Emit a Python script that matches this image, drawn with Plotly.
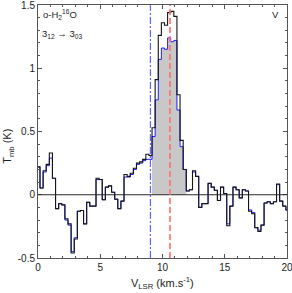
import plotly.graph_objects as go

# Channel centre velocities (km/s)
velocity = [0.035, 0.285, 0.535, 0.785, 1.035, 1.285, 1.535, 1.785, 2.035, 2.285,
            2.535, 2.785, 3.035, 3.285, 3.535, 3.785, 4.035, 4.285, 4.535, 4.785,
            5.035, 5.285, 5.535, 5.785, 6.035, 6.285, 6.535, 6.785, 7.035, 7.285,
            7.535, 7.785, 8.035, 8.285, 8.535, 8.785, 9.035, 9.285, 9.535, 9.785,
            10.035, 10.285, 10.535, 10.785, 11.035, 11.285, 11.535, 11.785, 12.035, 12.285,
            12.535, 12.785, 13.035, 13.285, 13.535, 13.785, 14.035, 14.285, 14.535, 14.785,
            15.035, 15.285, 15.535, 15.785, 16.035, 16.285, 16.535, 16.785, 17.035, 17.285,
            17.535, 17.785, 18.035, 18.285, 18.535, 18.785, 19.035, 19.285, 19.535, 19.785,
            20.035]
channel_width = 0.25

# Black spectrum (K)
tmb_black = [0.22, 0.053, 0.19, 0.24, 0.33, 0.13, -0.11, -0.07, -0.08, -0.19,
             -0.23, -0.46, -0.35, -0.13, -0.125, -0.23, -0.06, -0.09, -0.09, 0.13,
             0.12, -0.04, 0.06, 0.07, 0.02, -0.035, -0.11, -0.05, 0.16, 0.145,
             0.17, 0.21, 0.25, 0.26, 0.28, 0.32, 0.31, 0.53, 0.91, 1.26,
             1.36, 1.34, 1.44, 1.45, 1.41, 0.79, 0.43, 0.2, 0.03, 0.04,
             0.19, 0.145, -0.10, -0.07, -0.07, 0.09, 0.06, 0.035, -0.045, 0.06,
             0.01, -0.245, -0.09, 0.06, 0.04, -0.025, 0.04, 0.03, -0.13, -0.15,
             -0.26, -0.29, -0.24, -0.065, -0.055, -0.07, -0.055, 0.085, -0.05, -0.09,
             -0.12]

# Blue spectrum (K)
tmb_blue = [0.22, 0.053, 0.18, 0.23, 0.29, 0.13, -0.11, -0.07, -0.08, -0.2,
            -0.24, -0.45, -0.34, -0.13, -0.125, -0.23, -0.06, -0.09, -0.09, 0.12,
            0.12, -0.04, 0.06, 0.07, 0.02, -0.035, -0.11, -0.05, 0.14, 0.14,
            0.16, 0.2, 0.24, 0.25, 0.27, 0.28, 0.28, 0.46, 0.75, 1.07,
            1.16, 1.15, 1.24, 1.21, 1.22, 0.67, 0.38, 0.2, 0.03, 0.04,
            0.18, 0.145, -0.10, -0.07, -0.07, 0.09, 0.06, 0.035, -0.045, 0.06,
            0.01, -0.23, -0.09, 0.06, 0.04, -0.025, 0.04, 0.03, -0.12, -0.14,
            -0.26, -0.28, -0.24, -0.065, -0.055, -0.07, -0.055, 0.08, -0.05, -0.09,
            -0.12]

# Integration window and reference velocities
window_start = 9.16
window_end = 11.91
v_blue_line = 9.03
v_red_line = 10.6

x_tickvals = [0, 5, 10, 15, 20]
x_ticktext = ["0", "5", "10", "15", "20"]
y_tickvals = [-0.5, 0, 0.5, 1, 1.5]
y_ticktext = ["-0.5", "0", "0.5", "1", "1.5"]


def steps(vel, vals, width):
    xs = [v - width / 2 for v in vel] + [vel[-1] + width / 2]
    ys = list(vals) + [vals[-1]]
    return xs, ys


fig = go.Figure()

# gray filled window under blue spectrum
fx, fy = [], []
for v, t in zip(velocity, tmb_blue):
    if window_start - 1e-6 <= v - channel_width / 2 and v + channel_width / 2 <= window_end + 1e-6:
        fx += [v - channel_width / 2, v + channel_width / 2]
        fy += [t, t]
fx = [fx[0]] + fx + [fx[-1]]
fy = [0] + fy + [0]
fig.add_trace(go.Scatter(x=fx, y=fy, mode="lines", fill="toself",
                         fillcolor="rgb(200,200,200)", line=dict(width=0),
                         hoverinfo="skip", showlegend=False))

bx, by = steps(velocity, tmb_blue, channel_width)
fig.add_trace(go.Scatter(x=bx, y=by, mode="lines", line_shape="hv",
                         line=dict(color="rgb(30,30,255)", width=1), showlegend=False))
kx, ky = steps(velocity, tmb_black, channel_width)
fig.add_trace(go.Scatter(x=kx, y=ky, mode="lines", line_shape="hv",
                         line=dict(color="rgb(20,20,20)", width=1.1), showlegend=False))

fig.add_shape(type="line", x0=0, x1=20, y0=0, y1=0, xref="x", yref="y",
              line=dict(color="rgb(40,40,40)", width=1), layer="above")
fig.add_shape(type="line", x0=v_blue_line, x1=v_blue_line, y0=0, y1=1, xref="x", yref="paper",
              line=dict(color="rgb(100,100,255)", width=1.2, dash="7px,2px,2px,2px"), layer="above")
fig.add_shape(type="line", x0=v_red_line, x1=v_red_line, y0=0, y1=1, xref="x", yref="paper",
              line=dict(color="rgb(255,110,110)", width=1.6, dash="6px,3px"), layer="above")

font = dict(family="Liberation Sans, Arial, sans-serif", size=10, color="#222")

fig.add_annotation(x=0.012, y=0.962, xref="paper", yref="paper", xanchor="left", yanchor="middle",
                   text="o-H<sub>2</sub><sup>16</sup>O", showarrow=False, font=dict(font, size=9.5))
fig.add_annotation(x=0.008, y=0.885, xref="paper", yref="paper", xanchor="left", yanchor="middle",
                   text="3<sub>12</sub> \u2192 3<sub>03</sub>", showarrow=False, font=dict(font, size=9.5))
fig.add_annotation(x=0.955, y=0.962, xref="paper", yref="paper", xanchor="center", yanchor="middle",
                   text="V", showarrow=False, font=dict(font, size=9.5))
fig.add_annotation(x=-0.12, y=0.44, xref="paper", yref="paper", xanchor="center", yanchor="middle",
                   text="T<sub>mb</sub> (K)", textangle=-90, showarrow=False, font=dict(font, size=11))
fig.add_annotation(x=0.5, y=-0.1, xref="paper", yref="paper", xanchor="center", yanchor="middle",
                   text="V<sub>LSR</sub> (km.s<sup>-1</sup>)", showarrow=False, font=dict(font, size=11))

axis_common = dict(showgrid=False, zeroline=False, showline=True, linecolor="#555", linewidth=1,
                   mirror="allticks", ticks="inside", ticklen=4, tickcolor="#555", tickwidth=1,
                   tickfont=font, automargin=False, ticklabeloverflow="allow")
fig.update_xaxes(range=[0, 20], tickvals=x_tickvals, ticktext=x_ticktext,
                 minor=dict(dtick=1, ticks="inside", ticklen=2, tickcolor="#555"), **axis_common)
fig.update_yaxes(range=[-0.5, 1.5], tickvals=y_tickvals, ticktext=y_ticktext,
                 minor=dict(dtick=0.1, ticks="inside", ticklen=2, tickcolor="#555"), **axis_common)

fig.update_layout(width=292, height=293, margin=dict(l=38, r=5, t=5, b=35),
                  plot_bgcolor="white", paper_bgcolor="white", font=font, showlegend=False)

fig.write_html("out.html", config={"displayModeBar": False},
               post_script="document.body.style.margin='0';document.body.style.padding='0';document.body.style.overflow='hidden';")
